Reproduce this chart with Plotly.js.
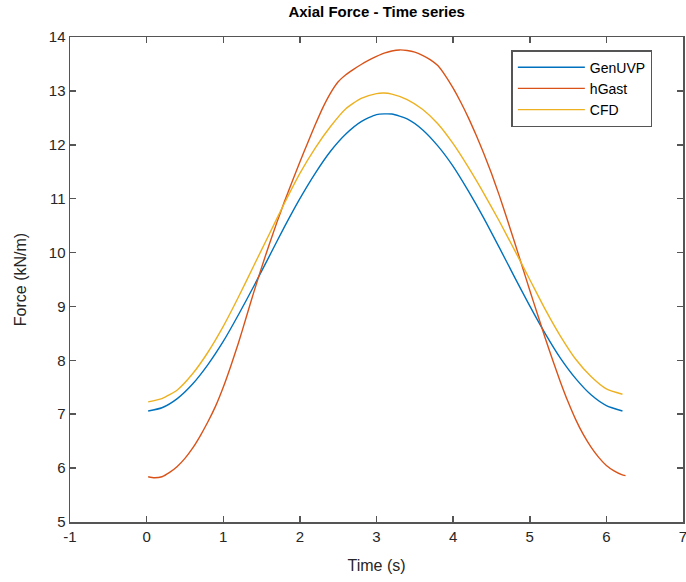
<!DOCTYPE html>
<html>
<head>
<meta charset="utf-8">
<script src="https://cdn.plot.ly/plotly-3.0.1.min.js"></script>
<style>
html,body{margin:0;padding:0;background:#fff;}
#chart{width:686px;height:582px;}
</style>
</head>
<body>
<div id="chart"></div>
<script>
// GenUVP
const timeGenUVP = [0.02, 0.2, 0.4, 0.6, 0.8, 1.0, 1.2, 1.4, 1.6, 1.8, 2.0, 2.2, 2.4, 2.6, 2.8, 3.0, 3.2, 3.4, 3.6, 3.8, 4.0, 4.2, 4.4, 4.6, 4.8, 5.0, 5.2, 5.4, 5.6, 5.8, 6.0, 6.21];
const forceGenUVP = [7.06, 7.12, 7.29, 7.56, 7.92, 8.35, 8.85, 9.38, 9.93, 10.48, 11.00, 11.47, 11.88, 12.20, 12.43, 12.56, 12.57, 12.48, 12.28, 11.98, 11.60, 11.14, 10.64, 10.10, 9.55, 9.01, 8.50, 8.04, 7.66, 7.36, 7.16, 7.06];
// hGast
const timeHGast = [0.02, 0.1, 0.2, 0.3, 0.4, 0.5, 0.6, 0.7, 0.8, 0.9, 1.0, 1.1, 1.2, 1.3, 1.4, 1.5, 1.6, 1.7, 1.8, 1.9, 2.0, 2.1, 2.2, 2.3, 2.4, 2.5, 2.6, 2.7, 2.8, 2.9, 3.0, 3.1, 3.2, 3.3, 3.4, 3.5, 3.6, 3.7, 3.8, 3.9, 4.0, 4.1, 4.2, 4.3, 4.4, 4.5, 4.6, 4.7, 4.8, 4.9, 5.0, 5.1, 5.2, 5.3, 5.4, 5.5, 5.6, 5.7, 5.8, 5.9, 6.0, 6.1, 6.2, 6.25];
const forceHGast = [5.84, 5.82, 5.84, 5.92, 6.03, 6.18, 6.37, 6.6, 6.86, 7.15, 7.5, 7.9, 8.33, 8.8, 9.27, 9.72, 10.15, 10.56, 10.95, 11.32, 11.68, 12.03, 12.37, 12.69, 12.96, 13.17, 13.3, 13.4, 13.49, 13.57, 13.64, 13.7, 13.74, 13.76, 13.75, 13.72, 13.66, 13.58, 13.47, 13.28, 13.05, 12.79, 12.5, 12.18, 11.84, 11.47, 11.07, 10.64, 10.2, 9.75, 9.3, 8.86, 8.42, 8.0, 7.6, 7.23, 6.9, 6.62, 6.39, 6.2, 6.05, 5.95, 5.88, 5.86];
// CFD
const timeCFD = [0.02, 0.2, 0.4, 0.6, 0.8, 1.0, 1.2, 1.4, 1.6, 1.8, 2.0, 2.2, 2.4, 2.6, 2.8, 3.0, 3.1, 3.2, 3.4, 3.6, 3.8, 4.0, 4.2, 4.4, 4.6, 4.8, 5.0, 5.2, 5.4, 5.6, 5.8, 6.0, 6.21];
const forceCFD = [7.23, 7.29, 7.45, 7.75, 8.15, 8.63, 9.18, 9.76, 10.34, 10.92, 11.47, 11.94, 12.34, 12.67, 12.86, 12.95, 12.96, 12.94, 12.84, 12.66, 12.39, 12.02, 11.58, 11.10, 10.59, 10.05, 9.50, 8.95, 8.45, 8.02, 7.70, 7.47, 7.37];

const seriesNames = ['GenUVP', 'hGast', 'CFD'];
const seriesColors = ['#0072BD', '#D95319', '#EDB120'];
const xTickVals = [-1, 0, 1, 2, 3, 4, 5, 6, 7];
const xTickText = ['-1', '0', '1', '2', '3', '4', '5', '6', '7'];
const yTickVals = [5, 6, 7, 8, 9, 10, 11, 12, 13, 14];

const xs = [timeGenUVP, timeHGast, timeCFD];
const ys = [forceGenUVP, forceHGast, forceCFD];

const traces = seriesNames.map((n, i) => ({
  type: 'scatter', mode: 'lines', name: n,
  x: xs[i], y: ys[i],
  line: {color: seriesColors[i], width: 1.4, shape: 'spline', smoothing: 0.6}
}));

const axisCommon = {
  showgrid: false, zeroline: false, showline: true, linecolor: '#555555', linewidth: 1.5,
  mirror: 'ticks', ticks: 'inside', ticklen: 6, tickcolor: '#555555', tickwidth: 1.5,
  tickfont: {family: 'Liberation Sans, Arial, sans-serif', size: 15, color: '#262626'},
  tickmode: 'array', ticklabeloverflow: 'allow'
};

const layout = {
  width: 686, height: 582,
  margin: {l: 70, r: 3, t: 37, b: 60},
  paper_bgcolor: '#ffffff', plot_bgcolor: '#ffffff',
  font: {family: 'Liberation Sans, Arial, sans-serif', color: '#262626'},
  title: {text: '<b>Axial Force - Time series</b>', x: 0.5491, xanchor: 'center', xref: 'container',
          y: 0.979, yref: 'container', yanchor: 'middle',
          font: {size: 15, color: '#000000', family: 'Liberation Sans, Arial, sans-serif'}},
  xaxis: Object.assign({}, axisCommon, {range: [-1, 7], tickvals: xTickVals, ticktext: xTickText,
    title: {text: 'Time (s)', standoff: 16, font: {size: 16, color: '#262626'}}}),
  yaxis: Object.assign({}, axisCommon, {range: [5, 14], tickvals: yTickVals,
    title: {text: 'Force (kN/m)', standoff: 18, font: {size: 16, color: '#262626'}}}),
  showlegend: true,
  legend: {x: 0.72, y: 0.973, xanchor: 'left', yanchor: 'top',
    bgcolor: '#ffffff', bordercolor: '#555555', borderwidth: 1.5,
    font: {size: 14, color: '#000000', family: 'Liberation Sans, Arial, sans-serif'},
    itemwidth: 67, tracegroupgap: 0}
};

Plotly.newPlot('chart', traces, layout, {displayModeBar: false, staticPlot: true});
</script>
</body>
</html>
